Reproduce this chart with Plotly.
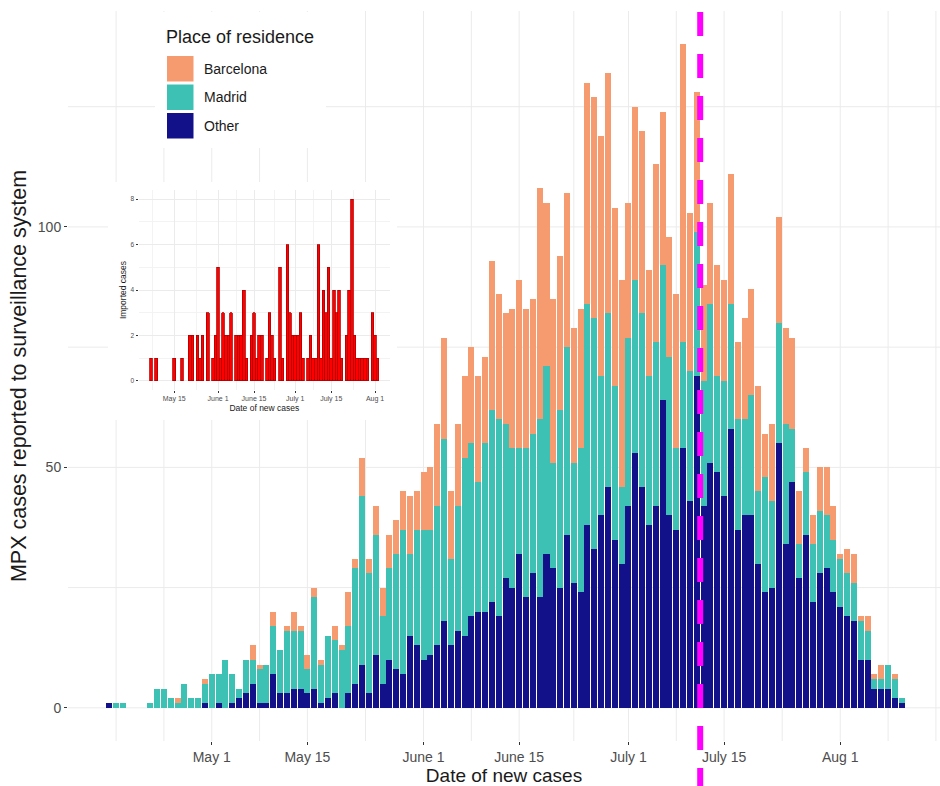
import pandas as pd
import plotly.graph_objects as go

# ---------------- data ----------------
first_day = "2022-04-16"
other = [1, 0, 0, 0, 0, 0, 0, 0, 0, 0, 0, 0, 0, 0, 1, 0, 1, 0, 1, 2, 3, 5, 1, 1, 7, 3, 3, 4, 4, 3,
         4, 1, 2, 3, 0, 3, 5, 9, 3, 11, 5, 10, 8, 7, 15, 13, 10, 11, 13, 18, 13, 16, 15, 19, 20, 20, 22, 19, 27, 25,
         32, 23, 28, 23, 32, 29, 25, 36, 26, 24, 38, 33, 40, 46, 35, 30, 42, 53, 46, 38, 42, 64, 40, 37, 54, 43, 69, 42, 51, 49,
         44, 58, 37, 40, 40, 30, 24, 25, 55, 34, 47, 27, 36, 22, 28, 29, 24, 21, 19, 18, 10, 10, 4, 4, 4, 2, 1]
madrid = [0, 1, 1, 0, 0, 0, 1, 4, 4, 2, 1, 5, 2, 2, 4, 7, 6, 10, 6, 2, 7, 5, 7, 8, 10, 9, 13, 12, 12, 5,
          19, 8, 13, 11, 12, 14, 24, 35, 25, 25, 14, 19, 24, 30, 17, 24, 27, 26, 29, 38, 18, 26, 37, 36, 27, 35, 40, 41, 32, 29,
          22, 31, 29, 37, 39, 22, 37, 39, 25, 30, 46, 48, 29, 36, 32, 16, 35, 36, 36, 31, 34, 28, 33, 17, 22, 27, 30, 26, 33, 20,
          24, 26, 23, 20, 25, 15, 24, 18, 25, 25, 11, 7, 13, 12, 13, 11, 11, 10, 9, 8, 8, 6, 2, 2, 5, 4, 1]
barcelona = [0, 0, 0, 0, 0, 0, 0, 0, 0, 0, 1, 0, 0, 0, 1, 0, 0, 0, 0, 0, 0, 3, 1, 0, 3, 0, 1, 4, 1, 3,
             2, 1, 0, 3, 1, 7, 2, 8, 3, 6, 6, 7, 7, 8, 12, 8, 12, 13, 17, 21, 14, 17, 17, 20, 22, 18, 31, 26, 23, 29,
             35, 29, 28, 48, 34, 34, 32, 32, 28, 29, 46, 46, 50, 50, 37, 43, 28, 36, 38, 22, 37, 32, 25, 32, 62, 33, 29, 20, 21, 23,
             21, 27, 16, 21, 22, 22, 9, 16, 22, 20, 19, 11, 5, 6, 9, 10, 7, 1, 5, 6, 1, 3, 1, 3, 0, 1, 0]

imported_dates = ["2022-05-06", "2022-05-08", "2022-05-15", "2022-05-18", "2022-05-21", "2022-05-22",
                  "2022-05-24", "2022-05-25", "2022-05-26", "2022-05-28", "2022-05-30", "2022-05-31",
                  "2022-06-01", "2022-06-02", "2022-06-03", "2022-06-04", "2022-06-05", "2022-06-06",
                  "2022-06-08", "2022-06-09", "2022-06-10", "2022-06-11", "2022-06-12", "2022-06-14",
                  "2022-06-15", "2022-06-16", "2022-06-17", "2022-06-18", "2022-06-20", "2022-06-21",
                  "2022-06-22", "2022-06-23", "2022-06-25", "2022-06-26", "2022-06-28", "2022-06-29",
                  "2022-06-30", "2022-07-01", "2022-07-02", "2022-07-03", "2022-07-04", "2022-07-06",
                  "2022-07-07", "2022-07-08", "2022-07-09", "2022-07-10", "2022-07-11", "2022-07-12",
                  "2022-07-13", "2022-07-14", "2022-07-15", "2022-07-16", "2022-07-17", "2022-07-18",
                  "2022-07-19", "2022-07-21", "2022-07-22", "2022-07-23", "2022-07-24", "2022-07-25",
                  "2022-07-26", "2022-07-27", "2022-07-28", "2022-07-29", "2022-07-31", "2022-08-01",
                  "2022-08-02"]
imported_counts = [1, 1, 1, 1, 2, 2, 2, 1, 2, 3, 1, 2, 5, 1, 3, 2, 2, 3, 2, 2, 2, 4, 1, 2,
                   3, 1, 2, 2, 1, 3, 2, 1, 5, 1, 6, 3, 2, 2, 2, 3, 1, 1, 2, 1, 1, 6, 1, 4,
                   3, 5, 1, 4, 3, 4, 1, 2, 4, 8, 2, 1, 1, 1, 1, 1, 3, 2, 1]

tick_dates = ["2022-05-01", "2022-05-15", "2022-06-01", "2022-06-15", "2022-07-01", "2022-07-15", "2022-08-01"]
tick_labels = ["May 1", "May 15", "June 1", "June 15", "July 1", "July 15", "Aug 1"]
minor_dates = ["2022-04-17", "2022-04-24", "2022-05-08", "2022-05-23 12:00", "2022-06-08",
               "2022-06-23", "2022-07-08", "2022-07-23 12:00", "2022-08-08", "2022-08-15"]
inset_ticks = ["2022-05-15", "2022-06-01", "2022-06-15", "2022-07-01", "2022-07-15", "2022-08-01"]
inset_labels = ["May 15", "June 1", "June 15", "July 1", "July 15", "Aug 1"]
inset_minor = ["2022-05-06 12:00", "2022-05-23 12:00", "2022-06-08", "2022-06-23", "2022-07-08", "2022-07-23 12:00"]
cutoff_date = "2022-07-11 12:00"

series_names = ["Barcelona", "Madrid", "Other"]
# ---------------- style ----------------
COL = {"Barcelona": "#F69B70", "Madrid": "#3DC1B4", "Other": "#13118A"}
FONT = "Liberation Sans, Arial, sans-serif"
GRID = "#EBEBEB"
DAY_MS = 86400000

dates = pd.date_range(first_day, periods=len(other), freq="D")

fig = go.Figure()
for name, vals in [("Other", other), ("Madrid", madrid), ("Barcelona", barcelona)]:
    fig.add_trace(go.Bar(x=dates, y=vals, name=name, width=0.88 * DAY_MS,
                         marker=dict(color=COL[name], line=dict(width=0)),
                         showlegend=False, xaxis="x", yaxis="y"))

fig.add_trace(go.Bar(x=pd.to_datetime(imported_dates), y=imported_counts, name="Imported cases",
                     width=DAY_MS, marker=dict(color="#FF0000", line=dict(color="#B00000", width=0.8)),
                     showlegend=False, xaxis="x2", yaxis="y2"))

# pixel helpers for layout (panel: x 68..940, y 11..741)
W, H = 940, 786
L, R, T, B = 68, 0, 11, 45
pw, ph = W - L - R, H - T - B
px = lambda x: (x - L) / pw
py = lambda y: (H - B - y) / ph

shapes = []
# main gridlines (drawn below everything)
for d in tick_dates + minor_dates:
    shapes.append(dict(type="line", xref="x", yref="paper", x0=d, x1=d, y0=0, y1=1,
                       line=dict(color=GRID, width=1), layer="below"))
for v in [0, 25, 50, 75, 100, 125]:
    shapes.append(dict(type="line", xref="paper", yref="y", x0=0, x1=1, y0=v, y1=v,
                       line=dict(color=GRID, width=1), layer="below"))
# inset white background
shapes.append(dict(type="rect", xref="paper", yref="paper", x0=px(108), x1=px(397), y0=py(420), y1=py(182),
                   fillcolor="white", line=dict(width=0), layer="below"))
# legend background and keys
shapes.append(dict(type="rect", xref="paper", yref="paper", x0=px(155), x1=px(326), y0=py(148), y1=py(12),
                   fillcolor="white", line=dict(width=0), layer="below"))
key_tops = [56, 84.5, 113]
for name, top in zip(series_names, key_tops):
    shapes.append(dict(type="rect", xref="paper", yref="paper", x0=px(167), x1=px(193.5),
                       y0=py(top + 25.5), y1=py(top), fillcolor=COL[name], line=dict(width=0), layer="below"))
# dashed cutoff line
shapes.append(dict(type="line", xref="x", yref="paper", x0=cutoff_date, x1=cutoff_date,
                   y0=py(12), y1=py(800), line=dict(color="#FF00FF", width=6, dash="24px,18px"), layer="above"))

annotations = [dict(text="Place of residence", xref="paper", yref="paper", x=px(164), y=py(37),
                    xanchor="left", yanchor="middle", showarrow=False, font=dict(size=18, color="#1A1A1A", family=FONT))]
for name, top in zip(series_names, key_tops):
    annotations.append(dict(text=name, xref="paper", yref="paper", x=px(202), y=py(top + 13),
                            xanchor="left", yanchor="middle", showarrow=False,
                            font=dict(size=14, color="#1A1A1A", family=FONT)))

fig.update_layout(
    width=W, height=H, margin=dict(l=L, r=R, t=T, b=B, autoexpand=False),
    paper_bgcolor="white", plot_bgcolor="rgba(0,0,0,0)",
    barmode="stack", showlegend=False,
    font=dict(family=FONT, color="#4D4D4D"),
    shapes=shapes, annotations=annotations,
    xaxis=dict(type="date", range=["2022-04-09 23:00", "2022-08-15 14:24"], domain=[0, 1], anchor="y",
               tickvals=tick_dates, ticktext=tick_labels, tickfont=dict(size=14, color="#4D4D4D"),
               showgrid=False, zeroline=False, showline=False,
               ticks="outside", ticklen=3, tickcolor="#333333", tickwidth=1.2,
               title=dict(text="Date of new cases", font=dict(size=19, color="#1A1A1A"), standoff=1)),
    yaxis=dict(range=[-6.9, 144.9], domain=[0, 1], anchor="x",
               tickvals=[0, 50, 100], tickfont=dict(size=14, color="#4D4D4D"),
               showgrid=False, zeroline=False, showline=False,
               ticks="outside", ticklen=3, tickcolor="#333333", tickwidth=1.2,
               title=dict(text="MPX cases reported to surveillance system",
                          font=dict(size=21.5, color="#1A1A1A"), standoff=5)),
    xaxis2=dict(type="date", range=["2022-05-01 02:24", "2022-08-06 21:36"],
                domain=[px(138.5), px(390.2)], anchor="y2",
                tickvals=inset_ticks, ticktext=inset_labels, tickfont=dict(size=7, color="#4D4D4D"),
                showgrid=True, gridcolor=GRID, gridwidth=1, zeroline=False, showline=False,
                minor=dict(tickvals=inset_minor, showgrid=True, gridcolor="#F3F3F3", gridwidth=0.6),
                ticks="outside", ticklen=2, tickcolor="#333333", tickwidth=0.8,
                title=dict(text="Date of new cases", font=dict(size=8.5, color="#1A1A1A"), standoff=1)),
    yaxis2=dict(range=[-0.4, 8.4], domain=[py(390), py(190)], anchor="x2",
                tickvals=[0, 2, 4, 6, 8], tickfont=dict(size=6.5, color="#4D4D4D"),
                showgrid=True, gridcolor=GRID, gridwidth=1, zeroline=False, showline=False,
                minor=dict(tickvals=[1, 3, 5, 7], showgrid=True, gridcolor="#F3F3F3", gridwidth=0.6),
                ticks="outside", ticklen=2, tickcolor="#333333", tickwidth=0.8,
                title=dict(text="Imported cases", font=dict(size=8.5, color="#1A1A1A"), standoff=2)),
)

fig.write_html("out.html")
